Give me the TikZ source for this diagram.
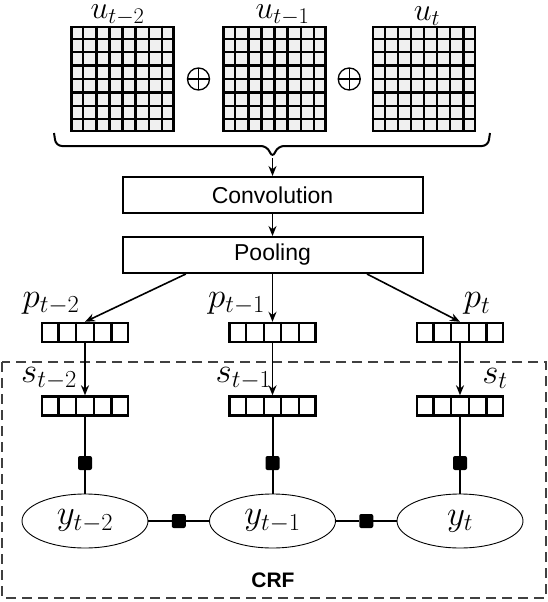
\RequirePackage{fix-cm}
\documentclass[tikz,border=0pt]{standalone}
\usepackage{amsmath,amssymb}
\usepackage{fontspec}
\setsansfont{Liberation Sans}
\usepackage{tikz}
\usetikzlibrary{arrows.meta,positioning,shapes.geometric,calc}

\tikzset{
  mapbox/.style={draw, line width=2.8pt, fill=black!6, minimum width=102pt,
    minimum height=104pt, inner sep=0pt},
  mapline/.style={line width=2.4pt},
  oplus/.style={draw, circle, line width=1.3pt, minimum size=22pt, inner sep=0pt,
    path picture={\draw[line width=1.2pt]
      (path picture bounding box.north) -- (path picture bounding box.south)
      (path picture bounding box.west) -- (path picture bounding box.east);}},
  brace/.style={line width=2pt, rounded corners=6pt},
  opbox/.style={draw, line width=2pt, minimum width=300pt, minimum height=36pt,
    font=\sffamily\fontsize{23}{27}\selectfont},
  vecbox/.style={draw, line width=2.4pt, minimum width=86pt, minimum height=19pt,
    inner sep=0pt},
  lbl/.style={inner sep=0pt, font=\fontsize{35}{40}\selectfont},
  toplbl/.style={lbl, font=\fontsize{32}{36}\selectfont},
  arr/.style={-{Stealth[length=10pt,width=8pt]}, line width=1.6pt},
  link/.style={line width=2pt},
  hlink/.style={line width=2.8pt},
  factor/.style={fill=black, minimum size=14pt, inner sep=0pt, rounded corners=2pt},
  var/.style={draw, ellipse, line width=0.9pt, minimum width=126pt,
    minimum height=54pt, inner sep=0pt, font=\fontsize{35}{40}\selectfont},
  crfbox/.style={draw=black!75, line width=2pt, dash pattern=on 10pt off 6pt},
}

\begin{document}
\begin{tikzpicture}[x=1pt,y=-1pt]
  \useasboundingbox (0,0) rectangle (548,602);

  % CRF region
  \draw[crfbox] (2,362) rectangle (546,598);
  \node[font=\sffamily\bfseries\fontsize{21}{24}\selectfont] (crf) at (273,580) {CRF};

  % input frames
  \foreach \nm/\cx/\txt/\dx in {ua/122.5/u_{t-2}/-5, ub/274.5/u_{t-1}/8, uc/424/u_{t}/3} {
    \node[mapbox] (\nm) at (\cx,79) {};
    \foreach \k in {1,...,7} {
      \draw[mapline] ($(\nm.north west)!\k/8!(\nm.north east)$) -- ($(\nm.south west)!\k/8!(\nm.south east)$);
      \draw[mapline] ($(\nm.north west)!\k/8!(\nm.south west)$) -- ($(\nm.north east)!\k/8!(\nm.south east)$);
    }
    \node[toplbl, above=0pt of \nm, xshift=\dx] (l\nm) {$\txt$};
  }
  \node[oplus] (o1) at ($(ua.east)!0.5!(ub.west)$) {};
  \node[oplus] (o2) at ($(ub.east)!0.5!(uc.west)$) {};

  % brace
  \coordinate (bt) at (272.5,158);
  \draw[brace] (54,133) -- (56,146) -- (267,146) -- (bt) -- (278,146) -- (488,146) -- (490,133);

  % CNN layers
  \node[opbox] (conv) at (272.5,195) {Convolution};
  \node[opbox] (pool) at (272.5,255) {Pooling};
  \draw[arr] (bt) -- (conv.north);
  \draw[arr] (conv) -- (pool);

  % feature vectors, factors and labels
  \foreach \nm/\cx/\sub/\px/\sx in {a/85/t-2/-34/-36, b/272.5/t-1/-36/-29, c/460/t/17/35} {
    \node[vecbox] (p\nm) at (\cx,332.5) {};
    \node[vecbox] (s\nm) at (\cx,406) {};
    \foreach \k in {1,...,4} {
      \draw[line width=2.2pt] ($(p\nm.north west)!\k/5!(p\nm.north east)$) -- ($(p\nm.south west)!\k/5!(p\nm.south east)$);
      \draw[line width=2.2pt] ($(s\nm.north west)!\k/5!(s\nm.north east)$) -- ($(s\nm.south west)!\k/5!(s\nm.south east)$);
    }
    \node[lbl] (lp\nm) at ($(p\nm.north)+(\px,-18)$) {$p_{\sub}$};
    \node[lbl] (ls\nm) at ($(s\nm.north)+(\sx,-17)$) {$s_{\sub}$};
    \node[factor] (f\nm) at (\cx,463) {};
    \node[var] (y\nm) at (\cx,521) {$y_{\sub}$};
    \draw[arr] (p\nm) -- (s\nm);
    \draw[link] (s\nm) -- (f\nm) -- (y\nm);
  }

  \draw[arr] ($(pool.south west)!0.213!(pool.south east)$) -- (pa.north);
  \draw[arr] (pool.south) -- (pb.north);
  \draw[arr] ($(pool.south west)!0.813!(pool.south east)$) -- (pc.north);

  % chain factors
  \node[factor] (fab) at ($(ya.east)!0.5!(yb.west)$) {};
  \node[factor] (fbc) at ($(yb.east)!0.5!(yc.west)$) {};
  \draw[hlink] (ya) -- (fab) -- (yb);
  \draw[hlink] (yb) -- (fbc) -- (yc);
\end{tikzpicture}
\end{document}
